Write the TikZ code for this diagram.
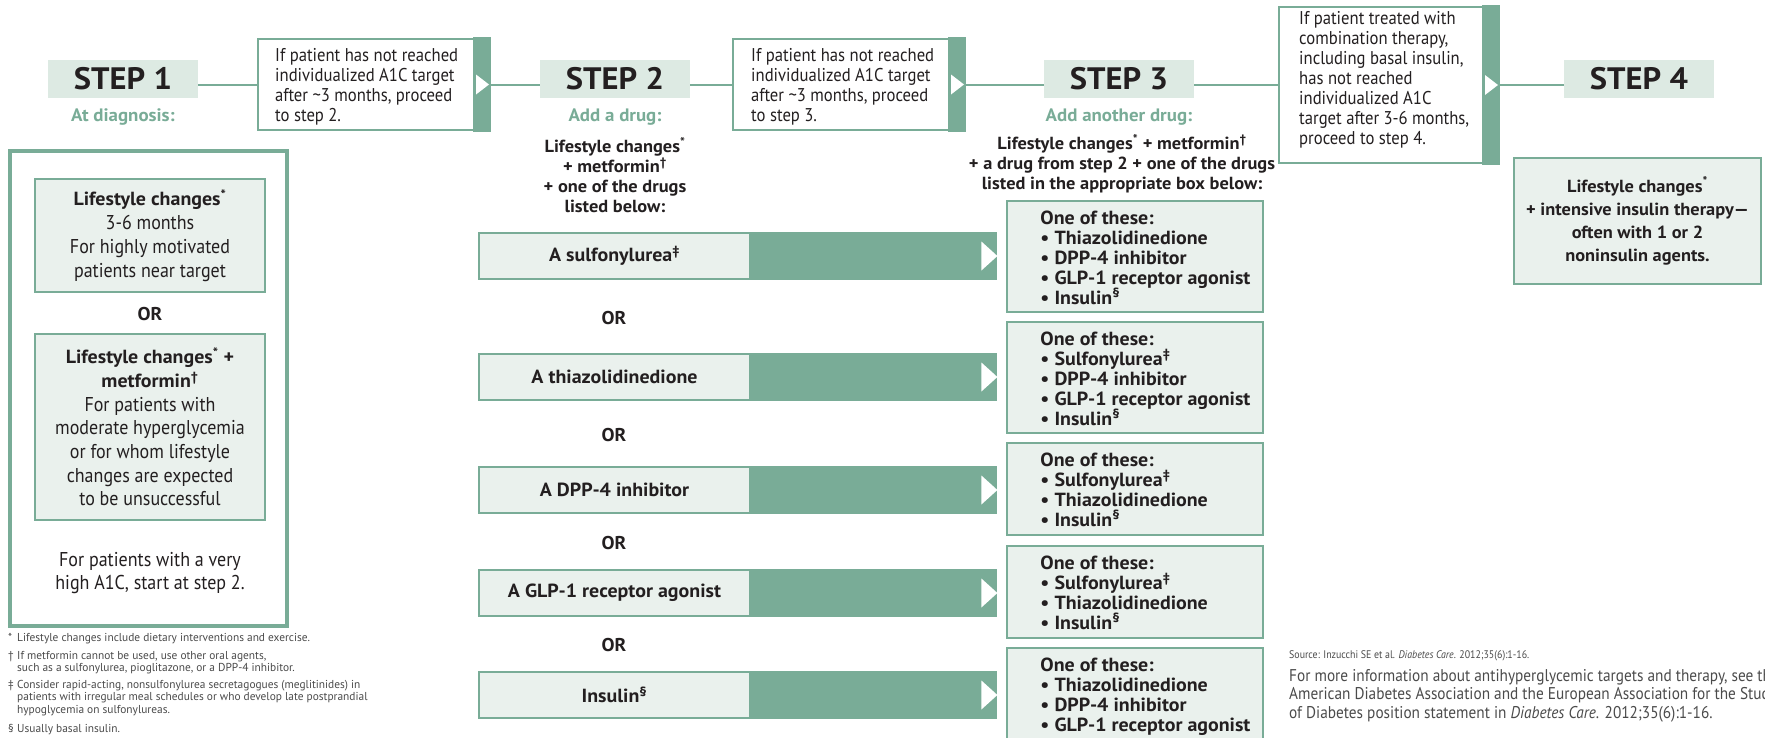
\documentclass[tikz,border=0pt]{standalone}
\usepackage{fontspec}
\setmainfont{PT Sans}[FakeStretch=0.9]
\newfontfamily\bfam{PT Sans}[FakeStretch=1.05]
\newfontfamily\wfam{PT Sans}[FakeStretch=0.99]
\usetikzlibrary{calc}
\definecolor{dtteal}{RGB}{121,172,151}
\definecolor{stepfill}{RGB}{221,234,227}
\definecolor{boxfill}{RGB}{234,241,237}
\definecolor{ink}{RGB}{35,31,32}
\definecolor{grayink}{RGB}{75,75,75}
\newcommand\fsz[2]{\fontsize{#1}{#2}\selectfont}
\newcommand\bsf{\bfam\bfseries}
\tikzset{
  stepbox/.style={fill=stepfill, minimum width=150, minimum height=38, inner sep=0, text=ink, font=\fsz{31}{32}\bsf},
  infobox/.style={draw=dtteal, line width=2, fill=white, inner sep=0},
  infotext/.style={align=left, inner sep=0, text=ink, font=\fsz{18.5}{20}},
  conn/.style={draw=dtteal, line width=2},
  sub/.style={inner sep=0, text=dtteal, font=\fsz{18}{20}\bsf},
  desc/.style={align=center, inner sep=0, text=ink, font=\fsz{17.5}{20}\bsf},
  inbox/.style={draw=dtteal, line width=1.5, fill=boxfill, align=center, inner sep=0, text=ink, font=\fsz{20}{24}},
  orlbl/.style={inner sep=0, text=ink, font=\fsz{18.5}{20}\bsf},
  barl/.style={draw=dtteal, line width=1.5, fill=boxfill, minimum width=271, minimum height=46, inner sep=0, text=ink, font=\fsz{19}{20}\bsf},
  bard/.style={fill=dtteal, minimum width=247, minimum height=47.5, inner sep=0},
  rbox/.style={draw=dtteal, line width=1.5, fill=boxfill, minimum width=256, inner sep=0},
  rtext/.style={align=left, inner sep=0, text=ink, font=\fsz{19}{20}\bsf},
  fn/.style={align=left, inner sep=0, text=grayink, font=\wfam\fsz{11.5}{12.5}},
  src/.style={align=left, inner sep=0, text=grayink, font=\fsz{11}{12}},
  more/.style={align=left, inner sep=0, text=grayink, font=\fsz{17}{18.5}}
}
\begin{document}
\begin{tikzpicture}[x=1pt,y=-1pt]
\useasboundingbox (0,0) rectangle (1765,737);
\fill[white] (0,0) rectangle (1765,737);
\clip (0,0) rectangle (1765,737);

% STEP headers
\node[stepbox] (s1) at (123,79) {STEP 1};
\node[stepbox] (s2) at (615,79) {STEP 2};
\node[stepbox] (s3) at (1119,79) {STEP 3};
\node[stepbox] (s4) at (1639,79) {STEP 4};

% info boxes
\node[infobox, minimum width=231, minimum height=91] (i1) at (373.5,84.5) {};
\node[infobox, minimum width=231, minimum height=91] (i2) at (848.5,84.5) {};
\node[infobox, minimum width=219, minimum height=156] (i3) at (1388.5,85) {};
\foreach \b in {i1,i2,i3}{
  \fill[dtteal] ($(\b.north east)+(1,-1)$) rectangle ($(\b.south east)+(-17,1)$);
  \fill[white] ($(\b.east)+(-14,-10)$) -- ($(\b.east)+(-1,0)$) -- ($(\b.east)+(-14,10)$) -- cycle;
}
\node[infotext, anchor=west] (i1t) at ($(i1.west)+(18,2.5)$) {If patient has not reached\\individualized A1C target\\after \textasciitilde3 months, proceed\\to step 2.};
\node[infotext, anchor=west] (i2t) at ($(i2.west)+(19,2.5)$) {If patient has not reached\\individualized A1C target\\after \textasciitilde3 months, proceed\\to step 3.};
\node[infotext, anchor=west] (i3t) at ($(i3.west)+(21,-5)$) {If patient treated with\\combination therapy,\\including basal insulin,\\has not reached\\individualized A1C\\target after 3-6 months,\\proceed to step 4.};

% connectors
\draw[conn] (s1.east |- i1.west) -- (i1.west);
\draw[conn] (i1.east) -- (i1.east -| s2.west);
\draw[conn] (s2.east |- i2.west) -- (i2.west);
\draw[conn] (i2.east) -- (i2.east -| s3.west);
\draw[conn] (s3.east |- i3.west) -- (i3.west);
\draw[conn] (i3.east) -- (i3.east -| s4.west);

% subheads
\node[sub] (a1) at (123,117) {At diagnosis:};
\node[sub] (a2) at (615,117) {Add a drug:};
\node[sub] (a3) at (1119,117) {Add another drug:};

\node[desc] (d2) at (615,175) {Lifestyle changes\textsuperscript{*}\\+ metformin\textsuperscript{†}\\+ one of the drugs\\listed below:};
\node[desc] (d3) at (1122,164) {Lifestyle changes\textsuperscript{*} + metformin\textsuperscript{†}\\+ a drug from step 2 + one of the drugs\\listed in the appropriate box below:};

% step 1 column
\node[draw=dtteal, line width=4, minimum width=277, minimum height=475, inner sep=0] (o1) at (148.5,388.5) {};
\node[inbox, minimum width=230, minimum height=113] (p1) at (150,235.5) {{\fsz{19}{24}\bsf Lifestyle changes\textsuperscript{*}}\\3-6 months\\For highly motivated\\patients near target};
\node[orlbl] (or0) at (150,314) {OR};
\node[inbox, minimum width=230, minimum height=186, font=\fsz{20}{23.7}] (p2) at (150,427) {{\fsz{19}{23.7}\bsf Lifestyle changes\textsuperscript{*} +}\\{\fsz{19}{23.7}\bsf metformin\textsuperscript{†}}\\For patients with\\moderate hyperglycemia\\or for whom lifestyle\\changes are expected\\to be unsuccessful};
\node[align=center, inner sep=0, text=ink, font=\fsz{20}{23.5}] (hi) at (150,573) {For patients with a very\\high A1C, start at step 2.};

% drug bars
\foreach \n/\y/\t in {b1/256/{A sulfonylurea\textsuperscript{‡}}, b2/377/{A thiazolidinedione}, b3/490/{A DPP-4 inhibitor}, b4/593/{A GLP-1 receptor agonist}, b5/695/{Insulin\textsuperscript{§}}}{
  \node[barl] (\n) at (614.5,\y) {\t};
  \node[bard, anchor=west] (\n d) at ($(\n.east)+(-0.75,0)$) {};
  \fill[white] ($(\n d.east)+(-16,-14.5)$) -- (\n d.east) -- ($(\n d.east)+(-16,14.5)$) -- cycle;
}
\node[orlbl] (or1) at (614,318) {OR};
\node[orlbl] (or2) at (614,435) {OR};
\node[orlbl] (or3) at (614,543) {OR};
\node[orlbl] (or4) at (614,645) {OR};

% right boxes
\node[rbox, minimum height=111] (rA) at (1135,256.5) {};
\node[rbox, minimum height=111] (rB) at (1135,377.5) {};
\node[rbox, minimum height=92] (rC) at (1135,489) {};
\node[rbox, minimum height=92] (rD) at (1135,592) {};
\node[rbox, minimum height=112] (rE) at (1135,704) {};
\node[rtext, anchor=north west] (tA) at ($(rA.north west)+(34,10)$) {One of these:\\• Thiazolidinedione\\• DPP-4 inhibitor\\• GLP-1 receptor agonist\\• Insulin\textsuperscript{§}};
\node[rtext, anchor=north west] (tB) at ($(rB.north west)+(34,10)$) {One of these:\\• Sulfonylurea\textsuperscript{‡}\\• DPP-4 inhibitor\\• GLP-1 receptor agonist\\• Insulin\textsuperscript{§}};
\node[rtext, anchor=north west] (tC) at ($(rC.north west)+(34,10)$) {One of these:\\• Sulfonylurea\textsuperscript{‡}\\• Thiazolidinedione\\• Insulin\textsuperscript{§}};
\node[rtext, anchor=north west] (tD) at ($(rD.north west)+(34,10)$) {One of these:\\• Sulfonylurea\textsuperscript{‡}\\• Thiazolidinedione\\• Insulin\textsuperscript{§}};
\node[rtext, anchor=north west] (tE) at ($(rE.north west)+(34,10)$) {One of these:\\• Thiazolidinedione\\• DPP-4 inhibitor\\• GLP-1 receptor agonist};

% step 4 box
\node[draw=dtteal, line width=1.5, fill=boxfill, minimum width=247, minimum height=126, align=center, inner sep=0, text=ink, font=\fsz{17.5}{23}\bsf] (p4) at (1637.5,221) {Lifestyle changes\textsuperscript{*}\\+ intensive insulin therapy—\\often with 1 or 2\\noninsulin agents.};

% footnotes
\node[fn, anchor=west] (fn1) at (8,639) {\makebox[9pt][l]{*}Lifestyle changes include dietary interventions and exercise.};
\node[fn, anchor=north west] (fn2) at (8,651) {\makebox[9pt][l]{†}If metformin cannot be used, use other oral agents,\\\hspace*{9pt}such as a sulfonylurea, pioglitazone, or a DPP-4 inhibitor.};
\node[fn, anchor=north west] (fn3) at (8,680) {\makebox[9pt][l]{‡}Consider rapid-acting, nonsulfonylurea secretagogues (meglitinides) in\\\hspace*{9pt}patients with irregular meal schedules or who develop late postprandial\\\hspace*{9pt}hypoglycemia on sulfonylureas.};
\node[fn, anchor=west] (fn4) at (8,730) {\makebox[9pt][l]{§}Usually basal insulin.};

% source
\node[src, anchor=west] (srcn) at (1289,656) {Source: Inzucchi SE et al. \textit{Diabetes Care}. 2012;35(6):1-16.};
\node[more, anchor=north west] (more) at (1289,669) {For more information about antihyperglycemic targets and therapy, see the\\American Diabetes Association and the European Association for the Study\\of Diabetes position statement in \textit{Diabetes Care}. 2012;35(6):1-16.};
\end{tikzpicture}
\end{document}
